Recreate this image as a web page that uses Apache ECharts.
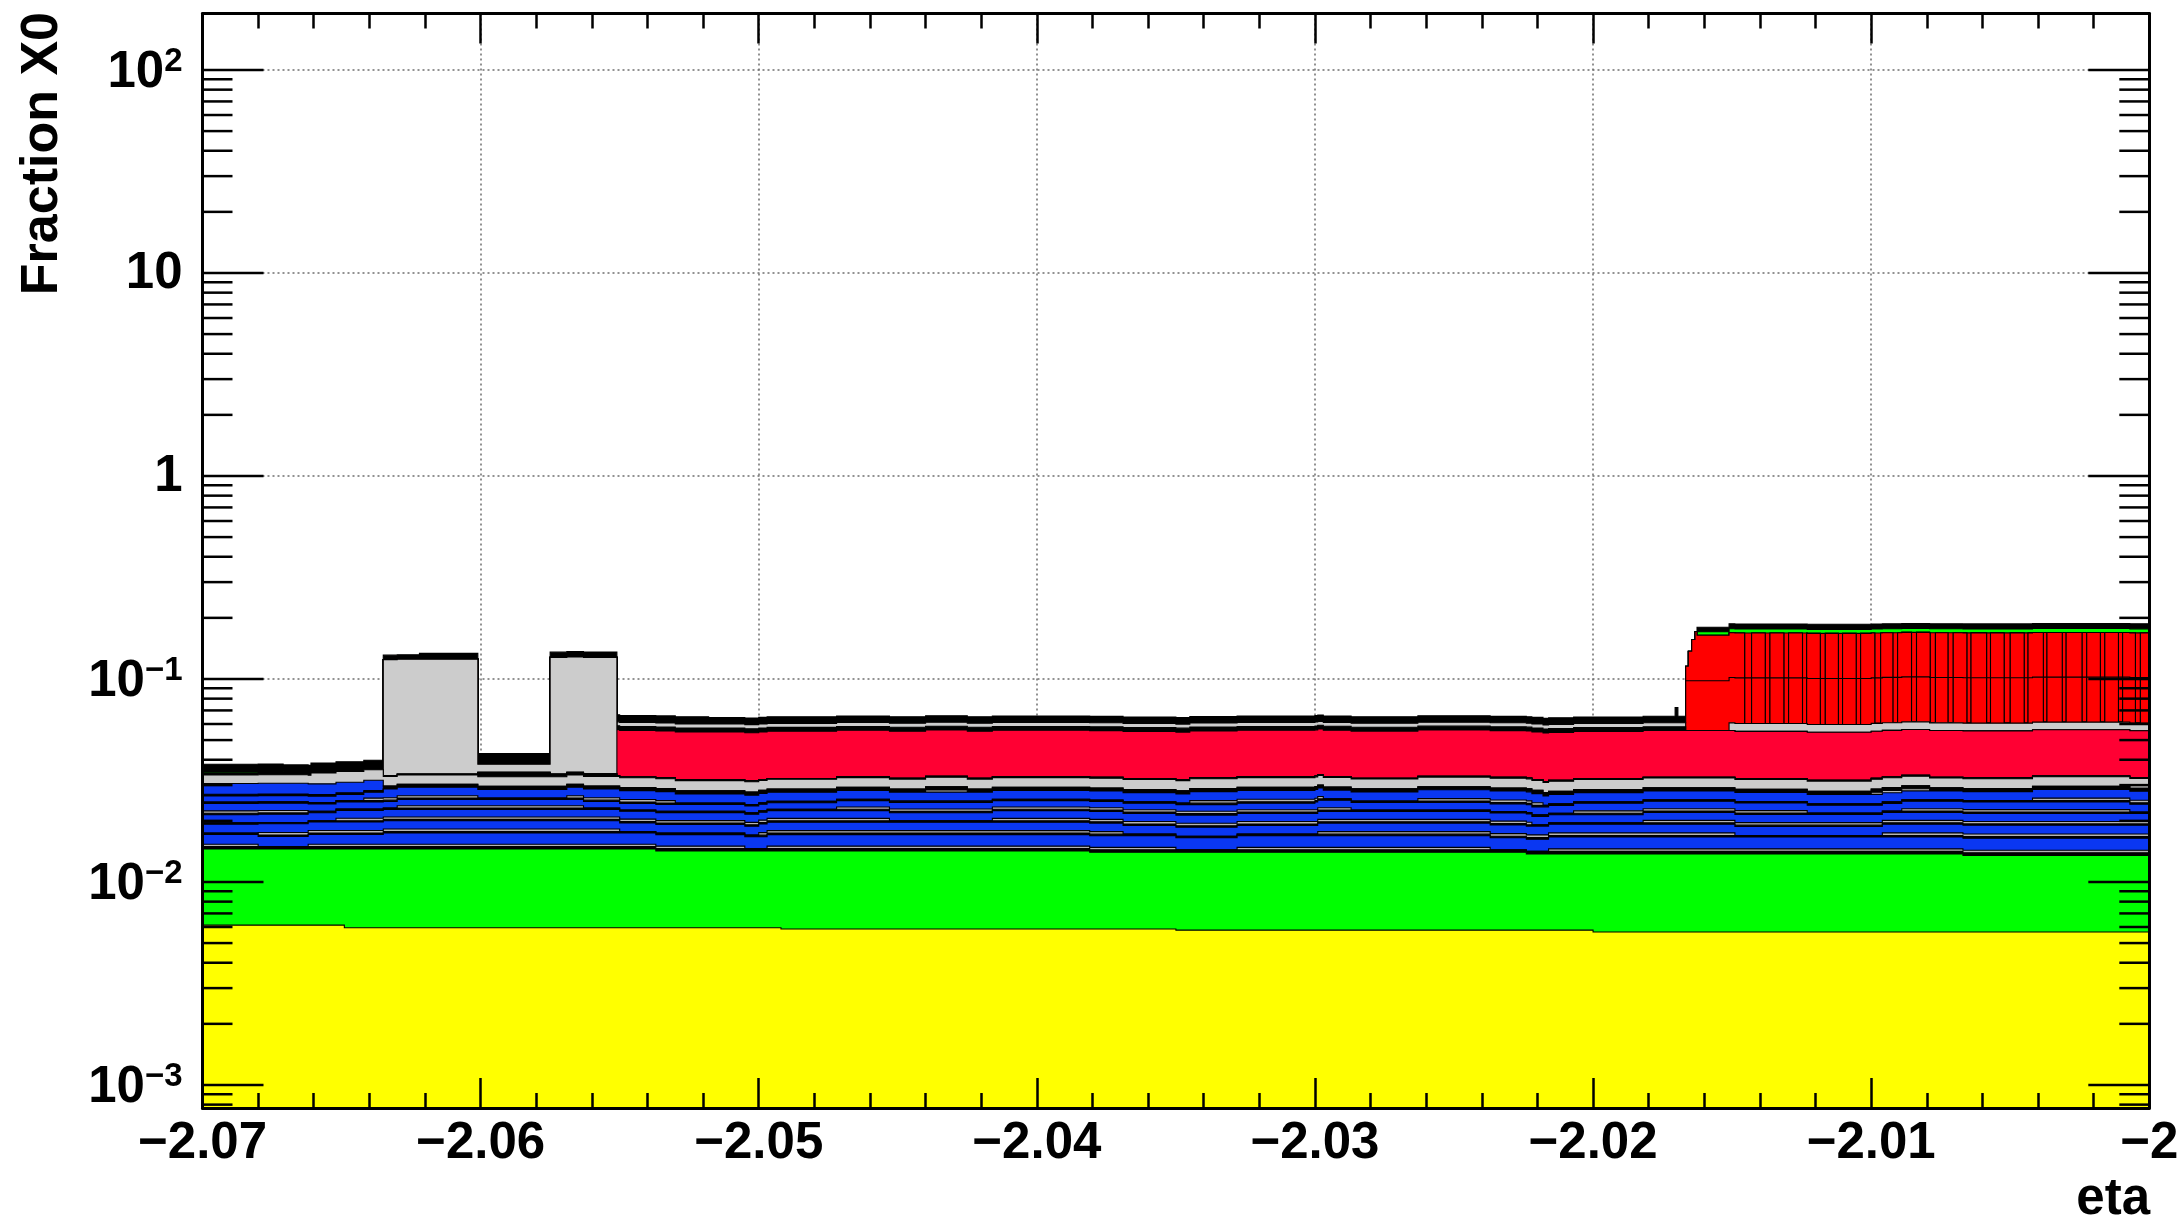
<!DOCTYPE html>
<html>
<head>
<meta charset="utf-8">
<title>Fraction X0 vs eta</title>
<script src="https://cdn.jsdelivr.net/npm/echarts@6/dist/echarts.min.js"></script>
<style>
  html, body { margin: 0; padding: 0; background: #ffffff; }
  #chart { width: 2184px; height: 1222px; }
</style>
</head>
<body>
<div id="chart"></div>
<script>
// ---- axis ranges and tick labels ----
const etaMin = -2.07, etaMax = -2.0;
const x0Min = 7.7e-4, x0Max = 190;
const etaTickStep = 0.01;
const decadeValues = [1e-3, 1e-2, 1e-1, 1, 10, 100];
const decadeLabels = [['10', '\u22123'], ['10', '\u22122'], ['10', '\u22121'], ['1', ''], ['10', ''], ['10', '2']];

// ---- material contributions, each entry is [etaFrom, etaTo, fraction of X0] ----
const yellowSeg = [[-2.07, -2.0649, 0.00613], [-2.0649, -2.0492, 0.00595], [-2.0492, -2.035, 0.00587], [-2.035, -2.02, 0.00579], [-2.02, -2.0, 0.00567]];
const greenSeg = [[-2.07, -2.0649, 0.00841], [-2.0649, -2.0537, 0.00859], [-2.0537, -2.0492, 0.00826], [-2.0492, -2.0381, 0.00834], [-2.0381, -2.035, 0.00813], [-2.035, -2.0224, 0.00821], [-2.0224, -2.02, 0.00796], [-2.02, -2.0067, 0.00808], [-2.0067, -2.0, 0.00785]];

const sepBlack0 = [[-2.07, -2.0, 0.0004]];
const hair0 = [[-2.07, -2.068, 0.0004], [-2.0662, -2.0505, 0.0004], [-2.0497, -2.035, 0.0004], [-2.0328, -2.0237, 0.0004], [-2.0216, -2.0, 0.0004]];
const blue1 = [[-2.07, -2.0635, 0.0018], [-2.0635, -2.0, 0.0021]];
const sepBlack1 = [[-2.07, -2.0, 0.0003]];
const hair1 = [[-2.068, -2.055, 0.0005], [-2.05, -2.0369, 0.0005], [-2.0299, -2.0149, 0.0005], [-2.0096, -2.0, 0.0005]];
const blue2 = [[-2.07, -2.0, 0.0018]];
const sepBlack2 = [[-2.07, -2.0, 0.0003]];
const hair2 = [[-2.0652, -2.0453, 0.00055], [-2.0416, -2.0222, 0.00055], [-2.0182, -2.0, 0.00055]];
const blue3 = [[-2.07, -2.0, 0.0019]];
const sepBlack3 = [[-2.07, -2.0, 0.00035]];
const hair3 = [[-2.07, -2.0662, 0.0006], [-2.063, -2.0563, 0.0006], [-2.0472, -2.0287, 0.0006], [-2.0207, -2.0123, 0.0006], [-2.0089, -2.0007, 0.0006]];
const blue4 = [[-2.07, -2.0635, 0.00195], [-2.0635, -2.03, 0.00175], [-2.03, -2.0, 0.00205]];
const sepBlack4 = [[-2.07, -2.0, 0.0004]];
const hair4 = [[-2.0642, -2.0601, 0.0007], [-2.0569, -2.053, 0.0007], [-2.0345, -2.0297, 0.0007], [-2.0263, -2.0218, 0.0007], [-2.0042, -2.0, 0.0007]];
const blue5 = [[-2.07, -2.0635, 0.0018], [-2.0635, -2.0, 0.0027]];
const hair5 = [[-2.044, -2.0425, 0.0007], [-2.01, -2.0079, 0.0007]];
const sepBlack5 = [[-2.07, -2.0635, 0.0005], [-2.0635, -2.0, 0.001]];
const blue6 = [[-2.07, -2.0635, 0.0035]];

const greyBase = [[-2.07, -2.0661, 0.0031], [-2.0661, -2.0635, 0.004], [-2.0635, -2.0, 0.0034]];
const sepBlackK1 = [[-2.0635, -2.0601, 0.0003], [-2.0601, -2.0575, 0.0017], [-2.0575, -2.0551, 0.001], [-2.0551, -2.0, 0.0003]];
const blackLowLeft = [[-2.07, -2.0661, 0.0009]];
const greenHair = [[-2.07, -2.0671, 0.0004]];
const greySupport = [[-2.0635, -2.0601, 0.0912], [-2.0601, -2.0575, 0.0033], [-2.0575, -2.0551, 0.0937]];
const crimsonSeg = [[-2.0551, -2.0, 0.0229]];
const sepBlackK2 = [[-2.0551, -2.01667, 0.0025]];
const greyTop = [[-2.0551, -2.01667, 0.0027], [-2.01511, -2.0, 0.0051]];

// forward block: first column (stepped edge) and the fine bins after it
const fwdMainStart = -2.01511;
const fwdEdgeLow = [[-2.01667, -2.01511, 0.0423]];
const fwdEdgeHigh = [[-2.01667, -2.016575, 0.0176], [-2.016575, -2.016453, 0.039], [-2.016453, -2.016334, 0.0585], [-2.016334, -2.016262, 0.0733], [-2.016262, -2.01511, 0.0663]];
const fwdNarrowBins = [
  [-2.01455, -2.01430], [-2.01381, -2.01364], [-2.01314, -2.01297], [-2.01247, -2.01232],
  [-2.01183, -2.01165], [-2.01118, -2.01103], [-2.01054, -2.01038], [-2.00987, -2.00966],
  [-2.00922, -2.00905], [-2.00855, -2.00837], [-2.00788, -2.00769], [-2.00724, -2.00705],
  [-2.00656, -2.00641], [-2.00585, -2.00571], [-2.00522, -2.00500], [-2.00450, -2.00436],
  [-2.00381, -2.00368], [-2.00313, -2.00299], [-2.00242, -2.00225], [-2.00176, -2.00160],
  [-2.00111, -2.00096], [-2.00050, -2.00032]
];
const fwdLowThickness = [0.0409];
const fwdHighThickness = [0.0672];
const greenFwd = [[-2.016262, -2.01511, 0.0066], [-2.01511, -2.0, 0.0078]];
const blackTop = [[-2.07, -2.0661, 0.0031], [-2.0661, -2.0635, 0.0041], [-2.0635, -2.0622, 0.0064], [-2.0622, -2.0601, 0.0085], [-2.0601, -2.0575, 0.0049], [-2.0575, -2.0551, 0.0079], [-2.0551, -2.0518, 0.0051], [-2.0518, -2.01705, 0.0046], [-2.01705, -2.01695, 0.0114], [-2.01695, -2.01667, 0.0046], [-2.016262, -2.01511, 0.009], [-2.01511, -2.0, 0.0103]];

// wide bins of the forward block lie between the narrow ones
const fwdWideBins = [];
(function () {
  let cur = fwdMainStart;
  fwdNarrowBins.forEach(([a, b]) => { fwdWideBins.push([cur, a]); cur = b; });
  if (cur < etaMax) fwdWideBins.push([cur, etaMax]);
})();
const redLowWide = fwdEdgeLow.concat(fwdWideBins.map(([a, b]) => [a, b, fwdLowThickness[0]]));
const redHighWide = fwdEdgeHigh.concat(fwdWideBins.map(([a, b]) => [a, b, fwdHighThickness[0]]));
const redLowNarrow = fwdNarrowBins.map(([a, b]) => [a, b, fwdLowThickness[0]]);
const redHighNarrow = fwdNarrowBins.map(([a, b]) => [a, b, fwdHighThickness[0]]);

// ---- fill colours ----
const YELLOW = '#ffff00', GREEN = '#00ff00', BLACK = '#000000', HAIR = '#b4b4b4',
      BLUE = '#0a37f2', GREY = '#cccccc', CRIMSON = '#ff0033', RED = '#ff0000';

// stacking order, bottom to top
const layers = [
  [yellowSeg, YELLOW], [greenSeg, GREEN],
  [sepBlack0, BLACK], [hair0, HAIR], [blue1, BLUE],
  [sepBlack1, BLACK], [hair1, HAIR], [blue2, BLUE],
  [sepBlack2, BLACK], [hair2, HAIR], [blue3, BLUE],
  [sepBlack3, BLACK], [hair3, HAIR], [blue4, BLUE],
  [sepBlack4, BLACK], [hair4, HAIR], [blue5, BLUE],
  [hair5, HAIR], [sepBlack5, BLACK], [blue6, BLUE],
  [greyBase, GREY], [sepBlackK1, BLACK], [blackLowLeft, BLACK], [greenHair, GREEN],
  [greySupport, GREY], [crimsonSeg, CRIMSON], [sepBlackK2, BLACK], [greyTop, GREY],
  [redLowWide, RED], [redHighWide, RED], [redLowNarrow, RED], [redHighNarrow, RED],
  [greenFwd, GREEN], [blackTop, BLACK]
];

// common bin edges of all layers and cumulative stack tops per layer
const edgeSet = new Set([etaMin, etaMax]);
layers.forEach(([segs]) => segs.forEach(s => { edgeSet.add(+s[0].toFixed(6)); edgeSet.add(+s[1].toFixed(6)); }));
const edges = Array.from(edgeSet).sort((a, b) => a - b);
function thicknessAt(segs, x) {
  for (const s of segs) { if (x > s[0] && x < s[1]) return s[2]; }
  return 0;
}
const cumTops = [];
(function () {
  let running = edges.slice(0, -1).map(() => 0);
  layers.forEach(([segs]) => {
    running = running.map((r, i) => r + thicknessAt(segs, (edges[i] + edges[i + 1]) / 2));
    cumTops.push(running.slice());
  });
})();
// the full stack is painted first, each lower sum on top of it
const drawOrder = layers.map((_, i) => layers.length - 1 - i);

const FONT = '"Liberation Sans", Arial, Helvetica, sans-serif';

function renderLayer(params, api) {
  const li = drawOrder[params.dataIndex];
  const tops = cumTops[li];
  const pts = [api.coord([etaMin, x0Min])];
  for (let i = 0; i < tops.length; i++) {
    const v = Math.max(tops[i], x0Min);
    pts.push(api.coord([edges[i], v]));
    pts.push(api.coord([edges[i + 1], v]));
  }
  pts.push(api.coord([etaMax, x0Min]));
  return {
    type: 'polygon',
    shape: { points: pts },
    style: { fill: layers[li][1], stroke: '#000', lineWidth: 1.1, lineJoin: 'miter' }
  };
}

function renderYGrid(params, api) {
  const children = decadeValues.map(v => {
    const a = api.coord([etaMin, v]), b = api.coord([etaMax, v]);
    return { type: 'line', shape: { x1: a[0], y1: a[1], x2: b[0], y2: b[1] },
             style: { stroke: '#6e6e6e', lineWidth: 1.5, lineDash: [2, 3] } };
  });
  return { type: 'group', children };
}

function renderYAxisDecor(params, api) {
  const children = [];
  const tick = (x1, y1, x2, y2) => children.push({
    type: 'line', shape: { x1, y1, x2, y2 }, style: { stroke: '#000', lineWidth: 2.5 }
  });
  for (let k = -4; k <= 2; k++) {
    for (let m = 1; m <= 9; m++) {
      const v = m * Math.pow(10, k);
      if (v <= x0Min || v >= x0Max) continue;
      const pL = api.coord([etaMin, v]), pR = api.coord([etaMax, v]);
      const len = m === 1 ? 61 : 30;
      tick(pL[0], pL[1], pL[0] + len, pL[1]);
      tick(pR[0] - len, pR[1], pR[0], pR[1]);
    }
  }
  decadeValues.forEach((v, i) => {
    const p = api.coord([etaMin, v]);
    const [base, sup] = decadeLabels[i];
    children.push({
      type: 'text',
      x: p[0] - 20,
      y: p[1] + (sup ? 3 : 1),
      style: {
        text: sup ? '{b|' + base + '}{s|' + sup + '}' : '{b|' + base + '}',
        align: 'right',
        verticalAlign: 'middle',
        rich: {
          b: { fontSize: 51, fontWeight: 'bold', fontFamily: FONT, fill: '#000', lineHeight: 56, verticalAlign: 'middle' },
          s: { fontSize: 33, fontWeight: 'bold', fontFamily: FONT, fill: '#000', lineHeight: 30, verticalAlign: 'top' }
        }
      }
    });
  });
  return { type: 'group', children };
}

const etaLabel = v => {
  const r = Math.round(v * 100) / 100;
  return r === -2 ? '\u22122' : '\u2212' + Math.abs(r).toFixed(2);
};

const gridRect = { left: 202.5, right: 34.7, top: 13.4, bottom: 114, containLabel: false, outerBoundsMode: 'none' };
const frameLine = { show: true, onZero: false, lineStyle: { color: '#000', width: 3 } };

const option = {
  animation: false,
  backgroundColor: '#ffffff',
  grid: [Object.assign({}, gridRect), Object.assign({}, gridRect)],
  xAxis: [
    { gridIndex: 0, type: 'value', min: etaMin, max: etaMax, interval: etaTickStep, z: 0,
      axisLine: { show: false }, axisTick: { show: false }, axisLabel: { show: false },
      splitLine: { show: true, lineStyle: { color: '#6e6e6e', width: 1.5, type: [2, 3] } } },
    { gridIndex: 1, type: 'value', position: 'bottom', min: etaMin, max: etaMax, interval: etaTickStep, z: 10,
      axisLine: frameLine,
      axisTick: { show: true, inside: true, length: 30, lineStyle: { color: '#000', width: 2.5 } },
      minorTick: { show: true, splitNumber: 5, length: 15, lineStyle: { color: '#000', width: 2.5 } },
      axisLabel: { show: true, margin: 10, color: '#000', fontSize: 51, fontWeight: 'bold', fontFamily: FONT,
                   formatter: etaLabel, showMinLabel: true, showMaxLabel: true, hideOverlap: false },
      splitLine: { show: false } },
    { gridIndex: 1, type: 'value', position: 'top', min: etaMin, max: etaMax, interval: etaTickStep, z: 10,
      axisLine: frameLine,
      axisTick: { show: true, inside: true, length: 30, lineStyle: { color: '#000', width: 2.5 } },
      minorTick: { show: true, splitNumber: 5, length: 15, lineStyle: { color: '#000', width: 2.5 } },
      axisLabel: { show: false }, splitLine: { show: false } }
  ],
  yAxis: [
    { gridIndex: 0, type: 'log', logBase: 10, min: x0Min, max: x0Max,
      axisLine: { show: false }, axisTick: { show: false }, axisLabel: { show: false }, splitLine: { show: false } },
    { gridIndex: 1, type: 'value', position: 'left', min: 0, max: 1, z: 10,
      axisLine: frameLine, axisTick: { show: false }, axisLabel: { show: false }, splitLine: { show: false } },
    { gridIndex: 1, type: 'value', position: 'right', min: 0, max: 1, z: 10,
      axisLine: frameLine, axisTick: { show: false }, axisLabel: { show: false }, splitLine: { show: false } }
  ],
  series: [
    { type: 'custom', name: 'grid', xAxisIndex: 0, yAxisIndex: 0, z: 1, silent: true, clip: true,
      data: [[etaMin, x0Max]], renderItem: renderYGrid },
    { type: 'custom', name: 'materials', xAxisIndex: 0, yAxisIndex: 0, z: 2, silent: true, clip: true,
      data: drawOrder.map(i => [etaMin, x0Max, i]), renderItem: renderLayer },
    { type: 'custom', name: 'yaxis', xAxisIndex: 0, yAxisIndex: 0, z: 12, silent: true, clip: false,
      data: [[etaMin, x0Max]], renderItem: renderYAxisDecor }
  ],
  graphic: [
    { type: 'text', x: 2150, y: 1200, z: 20,
      style: { text: 'eta', fill: '#000', fontSize: 51, fontWeight: 'bold', fontFamily: FONT, align: 'right', verticalAlign: 'middle' } },
    { type: 'text', x: 43, y: 12, rotation: Math.PI / 2, z: 20,
      style: { text: 'Fraction X0', fill: '#000', fontSize: 52, fontWeight: 'bold', fontFamily: FONT, align: 'right', verticalAlign: 'middle' } }
  ]
};

const chart = echarts.init(document.getElementById('chart'), null, { renderer: 'canvas' });
chart.setOption(option);
</script>
</body>
</html>
